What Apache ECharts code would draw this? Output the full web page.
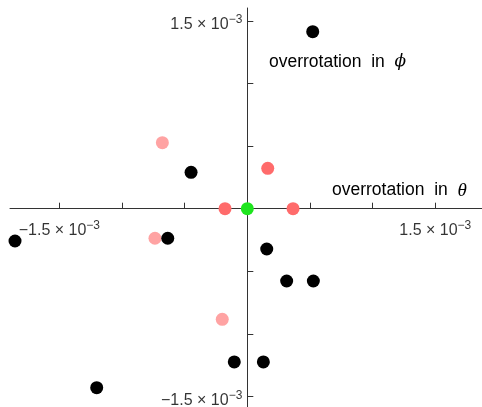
<!DOCTYPE html>
<html><head><meta charset="utf-8">
<script src="https://cdn.jsdelivr.net/npm/echarts@6/dist/echarts.min.js"></script>
<style>html,body{margin:0;padding:0;background:#fff}#c{width:482px;height:407px}</style>
</head><body><div id="c"></div>
<script>
const blackX = [5.22e-4, -4.49e-4, -1.854e-3, -6.35e-4, 1.55e-4, 3.14e-4, 5.27e-4, -1.04e-4, 1.28e-4, -1.202e-3];
const blackY = [1.413e-3, 2.90e-4, -2.58e-4, -2.36e-4, -3.22e-4, -5.77e-4, -5.77e-4, -1.223e-3, -1.223e-3, -1.429e-3];
const redX = [1.63e-4, -1.78e-4, 3.65e-4];
const redY = [3.22e-4, 0, 0];
const pinkX = [-6.78e-4, -7.37e-4, -2.00e-4];
const pinkY = [5.27e-4, -2.36e-4, -8.83e-4];
const greenX = [0];
const greenY = [0];
const tickValues = [-1.5e-3, -1e-3, -5e-4, 5e-4, 1e-3, 1.5e-3];
const labelValues = [-1.5e-3, 1.5e-3];
const xName = 'overrotation  in  ';
const xSym = 'θ';
const yName = 'overrotation  in  ';
const ySym = 'ϕ';

const pair = (xs, ys) => xs.map((x, i) => [x, ys[i]]);
const fmt = v => {
  const m = v / 1e-3;
  const s = (m < 0 ? '\u2212' : '') + Math.abs(m).toFixed(1);
  return '{m|' + s + ' \u00d7 10}{s|\u22123}';
};
const rich = {
  m: {fontFamily: 'Liberation Sans', fontSize: 16, color: '#000'},
  s: {fontFamily: 'Liberation Sans', fontSize: 12, color: '#000', padding: [0, 0, 10, 0]}
};
const axisLine = {onZero: true, lineStyle: {color: '#333', width: 1}};

const chart = echarts.init(document.getElementById('c'), null, {renderer: 'canvas'});
chart.setOption({
  animation: false,
  backgroundColor: '#fff',
  grid: {left: 10, right: 0, top: 8, bottom: 0, containLabel: false, outerBoundsMode: 'none'},
  xAxis: {
    type: 'value', min: -1.894e-3, max: 1.873e-3,
    axisLine: axisLine,
    axisTick: {show: true, inside: true, length: 6, customValues: tickValues, lineStyle: {color: '#333'}},
    axisLabel: {show: false},
    splitLine: {show: false}
  },
  yAxis: {
    type: 'value', min: -1.583e-3, max: 1.602e-3,
    axisLine: axisLine,
    axisTick: {show: true, inside: true, length: 6, customValues: tickValues, lineStyle: {color: '#333'}},
    axisLabel: {show: false},
    splitLine: {show: false}
  },
  graphic: [
    {type: 'text', left: 332, top: 181, style: {
      text: '{a|' + xName + '}{b|' + xSym + '}',
      rich: {a: {fontFamily: 'Liberation Sans', fontSize: 17.5, fill: '#000'}, b: {fontFamily: 'Liberation Serif', fontStyle: 'italic', fontSize: 19, fill: '#000'}}
    }},
    {type: 'text', left: 269, top: 53, style: {
      text: '{a|' + yName + '}{b|' + ySym + '}',
      rich: {a: {fontFamily: 'Liberation Sans', fontSize: 17.5, fill: '#000'}, b: {fontFamily: 'DejaVu Serif', fontStyle: 'italic', fontSize: 17, fill: '#000'}}
    }}
  ],
  series: [
    {type: 'scatter', data: labelValues.map(v => [v, 0]), symbolSize: 0, silent: true,
     label: {show: true, position: 'bottom', distance: 9, offset: [0, 2], formatter: p => fmt(p.value[0]), rich: rich}},
    {type: 'scatter', data: labelValues.map(v => [0, v]), symbolSize: 0, silent: true,
     label: {show: true, position: 'left', distance: 5, offset: [0, 4], formatter: p => fmt(p.value[1]), rich: rich}},
    {type: 'scatter', data: pair(pinkX, pinkY), symbolSize: 13, itemStyle: {color: '#ffa3a3', opacity: 1}},
    {type: 'scatter', data: pair(redX, redY), symbolSize: 13, itemStyle: {color: '#ff6b6b', opacity: 1}},
    {type: 'scatter', data: pair(blackX, blackY), symbolSize: 13, itemStyle: {color: '#000', opacity: 1}},
    {type: 'scatter', data: pair(greenX, greenY), symbolSize: 13, itemStyle: {color: '#1ee51e', opacity: 1}}
  ]
});
</script></body></html>
